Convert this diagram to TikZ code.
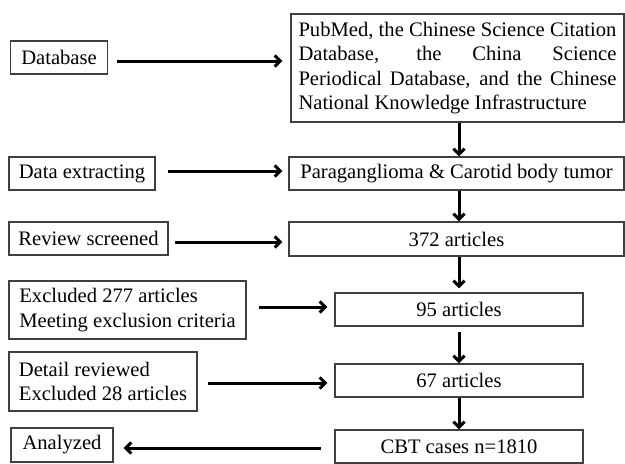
\documentclass[tikz,border=0pt]{standalone}
\usepackage{fontspec}
\setmainfont{Liberation Serif}
\usetikzlibrary{arrows.meta,calc}
\begin{document}
\begin{tikzpicture}[x=1pt,y=-1pt,
  box/.style={draw=black!75, line width=1.3pt, inner sep=0pt, text=black,
    font=\fontsize{20.6}{24.5}\selectfont, align=center, minimum height=33pt},
  arr/.style={line width=3pt, black, -{Straight Barb[length=5.5pt,width=11pt]}},
]
\useasboundingbox (0,0) rectangle (625,464);
% left column
\node[box, minimum width=97pt] (db) at (59,57.5) {Database};
\node[box, minimum width=146pt] (dex) at (82,173.5) {Data extracting};
\node[box, minimum width=159pt] (rev) at (88.5,238.5) {Review screened};
\node[box, minimum width=237pt, minimum height=58pt, align=left] (exc) at (127.5,310) {Excluded 277 articles\\Meeting exclusion criteria};
\node[box, minimum width=188pt, minimum height=59pt, align=left] (det) at (103,381.5) {Detail reviewed\\Excluded 28 articles};
\node[box, minimum width=102pt, minimum height=34pt] (ana) at (62,445) {Analyzed};
% right column
\node[box, minimum width=333pt, minimum height=108pt, text width=318pt, align=justify] (pub) at (457.5,68)
  {\tolerance=10000 PubMed, the Chinese Science Citation\linebreak Database, the China Science\linebreak Periodical Database, and the Chinese\linebreak National Knowledge Infrastructure};
\node[box, minimum width=335pt] (par) at (456.5,173.5) {Paraganglioma \& Carotid body tumor};
\node[box, minimum width=335pt, minimum height=34pt] (a372) at (456.5,239) {372 articles};
\node[box, minimum width=248pt] (a95) at (459,309.5) {95 articles};
\node[box, minimum width=248pt] (a67) at (459,380.5) {67 articles};
\node[box, minimum width=248pt] (cbt) at (459,446.5) {CBT cases n=1810};
% horizontal arrows
\draw[arr] ($(db.east)+(8.5,3.5)$) -- ($(db.east -| pub.west)+(-8,3.5)$);
\draw[arr] ($(dex.east)+(12,-2.5)$) -- ($(dex.east -| par.west)+(-6,-2.5)$);
\draw[arr] ($(rev.east)+(6,3.5)$) -- ($(rev.east -| a372.west)+(-6,3.5)$);
\draw[arr] ($(exc.east)+(12,-3)$) -- ($(exc.east -| a95.west)+(-7,-3)$);
\draw[arr] ($(det.east)+(10,1.5)$) -- ($(det.east -| a67.west)+(-7,1.5)$);
\draw[arr] ($(cbt.west)+(-13,1.5)$) -- ($(cbt.west -| ana.east)+(10,1.5)$);
% vertical arrows
\draw[arr] (pub.south -| cbt.north) -- (par.north -| cbt.north);
\draw[arr] (par.south -| cbt.north) -- (a372.north -| cbt.north);
\draw[arr] (a372.south -| cbt.north) -- ($(a95.north)+(0,-4)$);
\draw[arr] ($(a95.south)+(0,5)$) -- (a67.north);
\draw[arr] (a67.south) -- (cbt.north);
\end{tikzpicture}
\end{document}
